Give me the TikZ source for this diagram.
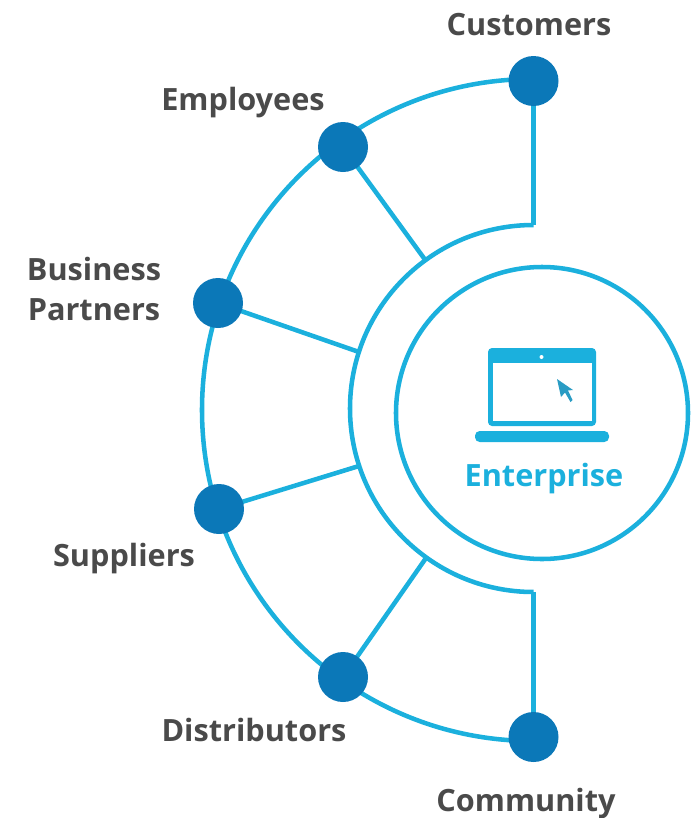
\documentclass[tikz,border=0pt]{standalone}
\usepackage{fontspec}
\setmainfont{Open Sans}
\definecolor{ln}{HTML}{1BB0DD}
\definecolor{dot}{HTML}{0B78B8}
\definecolor{txt}{HTML}{4A4A4A}
\definecolor{cur}{HTML}{2A9CC4}
\tikzset{
 arc line/.style={draw=ln,line width=3.4pt},
 spoke/.style={draw=ln,line width=3.4pt},
 hub/.style={circle,fill=dot,minimum size=37.5pt,inner sep=0pt},
 lab/.style={font=\fontsize{23}{30}\selectfont\bfseries,text=txt,align=center,inner sep=0pt},
}
\begin{document}
\begin{tikzpicture}[x=.75pt,y=-.75pt]
\useasboundingbox (0,0) rectangle (695,818);
\node[circle,draw=ln,line width=3.4pt,minimum size=219pt,inner sep=0pt] (core) at (542,413) {};
\coordinate (pc) at (533.5,81);
\coordinate (pe) at (343,147);
\coordinate (pb) at (218,303);
\coordinate (ps) at (219,509);
\coordinate (pd) at (343,677);
\coordinate (pm) at (533.5,737);
\coordinate (ic) at (533.5,225);
\coordinate (ie) at (426,261);
\coordinate (ib) at (359,352);
\coordinate (is) at (359,466);
\coordinate (id) at (426,558);
\coordinate (im) at (533.5,592);
\draw[arc line] (533,79) arc[start angle=90,end angle=270,radius=331*.75pt];
\draw[arc line] (ic) arc[start angle=90,end angle=270,radius=183.5*.75pt];
\draw[spoke] (pc)--(ic);
\draw[spoke] (pe)--(ie);
\draw[spoke] (pb)--(ib);
\draw[spoke] (ps)--(is);
\draw[spoke] (pd)--(id);
\draw[spoke] (pm)--(im);
\node[hub] (hc) at (pc) {};
\node[hub] (he) at (pe) {};
\node[hub] (hb) at (pb) {};
\node[hub] (hs) at (ps) {};
\node[hub] (hd) at (pd) {};
\node[hub] (hm) at (pm) {};
% laptop
\fill[ln,rounded corners=3pt] (488,348) rectangle (596,426);
\fill[white] (493,363) rectangle (592,421);
\fill[ln,rounded corners=3.5pt] (475,431) rectangle (609,442);
\fill[white] (541.5,357) circle[radius=2];
\fill[cur] (557,379) -- (561,397) -- (565,392.5) -- (570.5,402) -- (572.5,400) -- (568,390.5) -- (573,390) -- cycle;
\node[lab,text=ln] (ent) at (544,479) {Enterprise};
\node[lab] (tc) at (529,25) {Customers};
\node[lab] (te) at (243,103) {Employees};
\node[lab] (tb) at (94,289) {Business\\Partners};
\node[lab] (ts) at (124,559) {Suppliers};
\node[lab] (td) at (254,730) {Distributors};
\node[lab] (tm) at (526,804) {Community};
\end{tikzpicture}
\end{document}
